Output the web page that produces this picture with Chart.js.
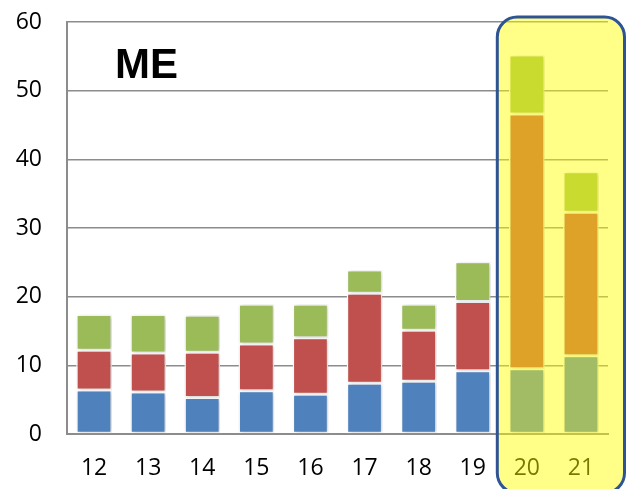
<!DOCTYPE html>
<html>
<head>
<meta charset="utf-8">
<script src="https://cdn.jsdelivr.net/npm/chart.js@4.4.0/dist/chart.umd.min.js"></script>
<style>
  html, body { margin: 0; padding: 0; background: #fff; }
  #chart { display: block; }
</style>
</head>
<body>
<canvas id="chart" width="626" height="489"></canvas>
<script>
// data
var categories = ['12', '13', '14', '15', '16', '17', '18', '19', '20', '21'];
var blueVals  = [6.4, 6.1, 5.3, 6.3, 5.8, 7.4, 7.7, 9.2, 9.5, 11.4];
var redVals   = [5.8, 5.7, 6.6, 6.8, 8.2, 13.1, 7.4, 10.1, 37.1, 20.9];
var greenVals = [5.2, 5.6, 5.4, 5.8, 4.9, 3.4, 3.8, 5.8, 8.6, 5.9];
var yTicks = [0, 10, 20, 30, 40, 50, 60];
var chartTitle = 'ME';
var highlightFrom = 8; // index of first highlighted category

var FONT = '"Open Sans", "Liberation Sans", sans-serif';

function makeSet(data, color) {
  return {
    data: data,
    backgroundColor: color,
    borderColor: '#ffffff',
    borderWidth: 1.5,
    borderSkipped: false,
    categoryPercentage: 1,
    barPercentage: 0.66
  };
}

// soft shadow behind bars
var shadowPlugin = {
  id: 'shadow',
  beforeDatasetsDraw: function(chart) {
    var ctx = chart.ctx;
    ctx.save();
    ctx.shadowColor = 'rgba(0,0,0,0.22)';
    ctx.shadowBlur = 4;
    ctx.shadowOffsetX = 1.5;
    ctx.shadowOffsetY = 0.5;
  },
  afterDatasetsDraw: function(chart) {
    chart.ctx.restore();
  }
};

// title inside plot + yellow highlight box
var overlayPlugin = {
  id: 'overlay',
  afterDraw: function(chart) {
    var ctx = chart.ctx;
    var area = chart.chartArea;
    var xs = chart.scales.x;

    ctx.save();
    ctx.font = 'bold 42px "Liberation Sans", Arial, sans-serif';
    ctx.fillStyle = '#000';
    ctx.textBaseline = 'alphabetic';
    ctx.textAlign = 'left';
    ctx.fillText(chartTitle, area.left + 48, area.top + 56);
    ctx.restore();

    var half = (xs.getPixelForValue(1) - xs.getPixelForValue(0)) / 2;
    var left = xs.getPixelForValue(highlightFrom) - half - 2.5;
    var right = chart.width - 1.5;
    var top = area.top - 5;
    var bottom = chart.height + 4;
    var r = 20;

    ctx.save();
    ctx.beginPath();
    ctx.moveTo(left + r, top);
    ctx.lineTo(right - r, top);
    ctx.arcTo(right, top, right, top + r, r);
    ctx.lineTo(right, bottom - r);
    ctx.arcTo(right, bottom, right - r, bottom, r);
    ctx.lineTo(left + r, bottom);
    ctx.arcTo(left, bottom, left, bottom - r, r);
    ctx.lineTo(left, top + r);
    ctx.arcTo(left, top, left + r, top, r);
    ctx.closePath();
    ctx.fillStyle = 'rgba(255,255,0,0.47)';
    ctx.fill();
    ctx.lineWidth = 3;
    ctx.strokeStyle = '#2f5496';
    ctx.stroke();
    ctx.restore();
  }
};

new Chart(document.getElementById('chart'), {
  type: 'bar',
  data: {
    labels: categories,
    datasets: [
      makeSet(blueVals, '#4f81bd'),
      makeSet(redVals, '#c0504d'),
      makeSet(greenVals, '#9bbb59')
    ]
  },
  options: {
    responsive: false,
    animation: false,
    layout: { padding: { top: 22, right: 18, bottom: 0, left: 0 } },
    plugins: {
      legend: { display: false },
      tooltip: { enabled: false },
      title: { display: false }
    },
    scales: {
      x: {
        stacked: true,
        grid: { display: false, drawTicks: false },
        border: { display: true, color: '#8c8c8c', width: 2 },
        ticks: {
          color: '#000',
          font: { family: FONT, size: 23 },
          padding: 21,
          maxRotation: 0
        },
        afterFit: function(scale) { scale.height = 55; }
      },
      y: {
        stacked: true,
        min: 0,
        max: 60,
        afterBuildTicks: function(scale) {
          scale.ticks = yTicks.map(function(v) { return { value: v }; });
        },
        grid: { color: '#8c8c8c', lineWidth: 1.5, drawTicks: false },
        border: { display: true, color: '#8c8c8c', width: 2 },
        ticks: {
          color: '#000',
          font: { family: FONT, size: 23 },
          padding: 25
        },
        afterFit: function(scale) {
          scale.width = 67;
          scale.paddingTop = 0;
          scale.paddingBottom = 0;
        }
      }
    }
  },
  plugins: [shadowPlugin, overlayPlugin]
});
</script>
</body>
</html>
